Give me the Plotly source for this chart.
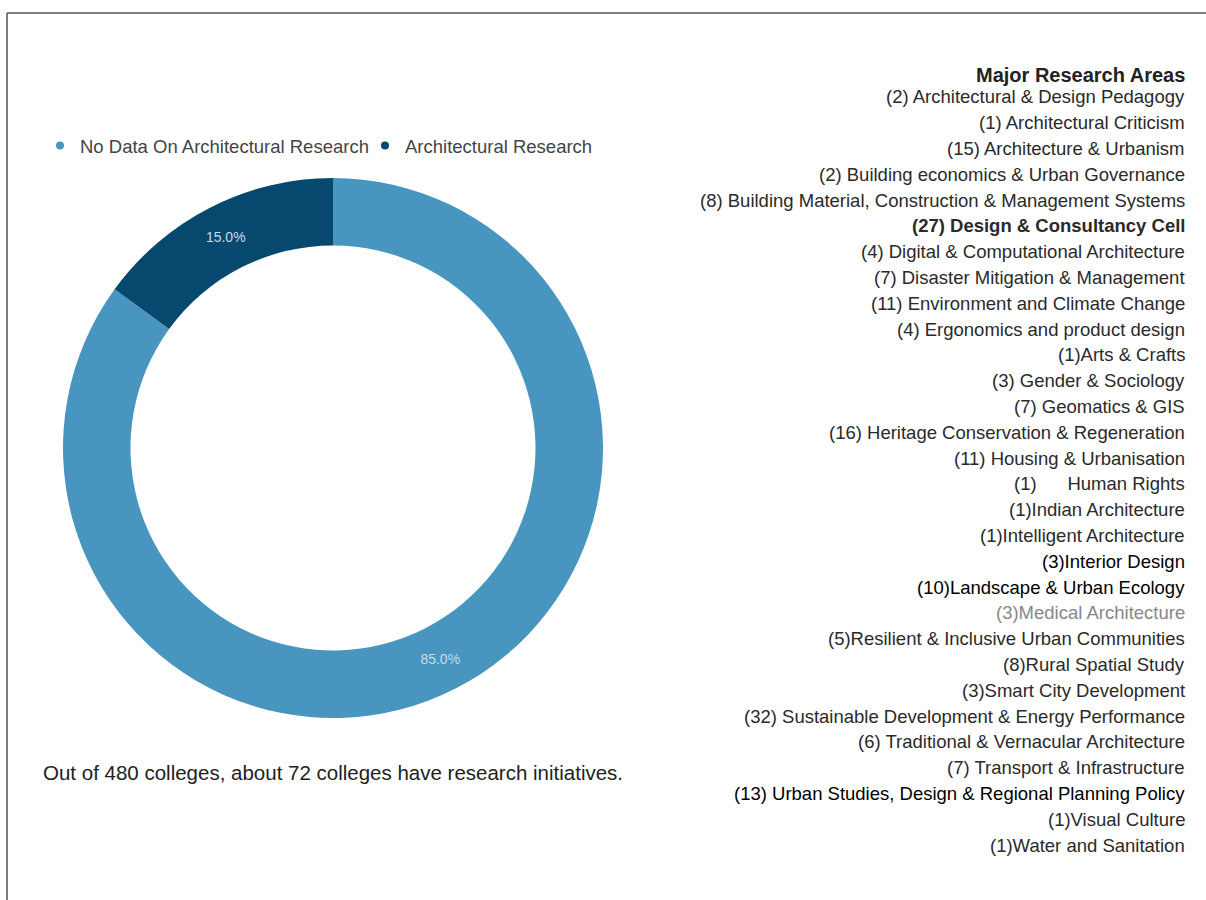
import plotly.graph_objects as go

# Share of colleges with research initiatives
status_labels = ["No Data On Architectural Research", "Architectural Research"]
status_counts = [408, 72]
status_colors = ["#4896bf", "#07496e"]

# Research areas (number of colleges in brackets)
areas_title = "Major Research Areas"
research_areas = [
    "(2) Architectural & Design Pedagogy",
    "(1) Architectural Criticism",
    "(15) Architecture & Urbanism",
    "(2) Building economics & Urban Governance",
    "(8) Building Material, Construction & Management Systems",
    "(27) Design & Consultancy Cell",
    "(4) Digital & Computational Architecture",
    "(7) Disaster Mitigation & Management",
    "(11) Environment and Climate Change",
    "(4) Ergonomics and product design",
    "(1)Arts & Crafts",
    "(3) Gender & Sociology",
    "(7) Geomatics & GIS",
    "(16) Heritage Conservation & Regeneration",
    "(11) Housing & Urbanisation",
    "(1)      Human Rights",
    "(1)Indian Architecture",
    "(1)Intelligent Architecture",
    "(3)Interior Design",
    "(10)Landscape & Urban Ecology",
    "(3)Medical Architecture",
    "(5)Resilient & Inclusive Urban Communities",
    "(8)Rural Spatial Study",
    "(3)Smart City Development",
    "(32) Sustainable Development & Energy Performance",
    "(6) Traditional & Vernacular Architecture",
    "(7) Transport & Infrastructure",
    "(13) Urban Studies, Design & Regional Planning Policy",
    "(1)Visual Culture",
    "(1)Water and Sanitation",
]
bold_areas = {"(27) Design & Consultancy Cell"}
dark_areas = {
    "(3)Interior Design",
    "(13) Urban Studies, Design & Regional Planning Policy",
    "(10)Landscape & Urban Ecology",
}
muted_areas = {"(3)Medical Architecture"}

caption = "Out of 480 colleges, about 72 colleges have research initiatives."

W, H = 1206, 900
FONT = "Liberation Sans, Arial, sans-serif"


def px_x(x):
    return x / W


def px_y(y):
    return 1 - y / H


fig = go.Figure()

fig.add_trace(go.Pie(
    labels=status_labels,
    values=status_counts,
    marker=dict(colors=status_colors, line=dict(width=0)),
    hole=0.75,
    sort=False,
    direction="clockwise",
    rotation=0,
    texttemplate="%{percent:.1%}",
    textposition="inside",
    insidetextorientation="horizontal",
    textfont=dict(color="#c8dbe7", size=14, family=FONT),
    showlegend=False,
    hoverinfo="label+value+percent",
    domain=dict(x=[px_x(63), px_x(603)], y=[px_y(718), px_y(178)]),
))

# Legend entries with round markers
for name, col in zip(status_labels, status_colors):
    fig.add_trace(go.Scatter(
        x=[None], y=[None], mode="markers", name=name,
        marker=dict(symbol="circle", size=8, color=col),
    ))

annotations = [
    dict(text=f"<b>{areas_title}</b>", x=px_x(1187), y=px_y(75),
         xref="paper", yref="paper", xanchor="right", yanchor="middle",
         showarrow=False, font=dict(size=20, color="#222", family=FONT)),
    dict(text=caption, x=px_x(333), y=px_y(772),
         xref="paper", yref="paper", xanchor="center", yanchor="middle",
         showarrow=False, font=dict(size=20.5, color="#222", family=FONT)),
]
step = (845 - 97) / (len(research_areas) - 1)
for i, area in enumerate(research_areas):
    txt = f"<b>{area}</b>" if area in bold_areas else area
    if area in muted_areas:
        col = "#888"
    elif area in dark_areas:
        col = "#000"
    else:
        col = "#2a2a2a"
    annotations.append(dict(
        text=txt, x=px_x(1187), y=px_y(97 + i * step),
        xref="paper", yref="paper", xanchor="right", yanchor="middle",
        showarrow=False, font=dict(size=18.5, color=col, family=FONT),
    ))

fig.update_layout(
    width=W, height=H,
    margin=dict(l=0, r=0, t=0, b=0),
    paper_bgcolor="white", plot_bgcolor="white",
    xaxis=dict(visible=False), yaxis=dict(visible=False),
    font=dict(family=FONT, color="#444"),
    legend=dict(
        orientation="h", x=px_x(40), y=px_y(146), xanchor="left", yanchor="middle",
        font=dict(size=18.5, color="#444", family=FONT), itemwidth=30,
        entrywidth=280, bgcolor="rgba(0,0,0,0)",
    ),
    annotations=annotations,
    shapes=[
        dict(type="line", xref="paper", yref="paper", x0=px_x(7), x1=1, y0=px_y(13), y1=px_y(13),
             line=dict(color="#555", width=1.5)),
        dict(type="line", xref="paper", yref="paper", x0=px_x(7), x1=px_x(7), y0=px_y(13), y1=0,
             line=dict(color="#555", width=1.5)),
    ],
)

fig.write_html("out.html")
